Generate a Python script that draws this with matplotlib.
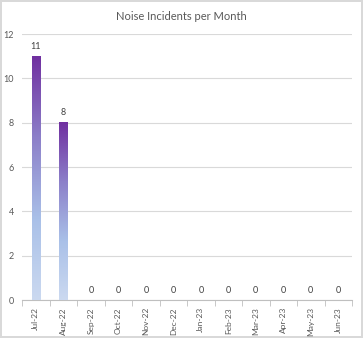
import numpy as np
import matplotlib.pyplot as plt
from matplotlib.colors import LinearSegmentedColormap

months = ["Jul-22", "Aug-22", "Sep-22", "Oct-22", "Nov-22", "Dec-22",
          "Jan-23", "Feb-23", "Mar-23", "Apr-23", "May-23", "Jun-23"]
incidents = [11, 8, 0, 0, 0, 0, 0, 0, 0, 0, 0, 0]
yticks = [0, 2, 4, 6, 8, 10, 12]

plt.rcParams['font.family'] = ['Lato', 'DejaVu Sans']

# light blue at the bottom of each bar, purple at the top
grad = LinearSegmentedColormap.from_list(
    "bargrad", ["#cbd9f0", "#a9c0e8", "#8c7fc9", "#7030a0"])

fig = plt.figure(figsize=(3.63, 3.38), dpi=100)
fig.patch.set_edgecolor("#d9d9d9")
fig.patch.set_linewidth(1.5)
ax = fig.add_axes([0.061, 0.112, 0.909, 0.787])

x = np.arange(len(months))
width = 0.3
ramp = np.linspace(0, 1, 256).reshape(-1, 1)
for xi, val in zip(x, incidents):
    if val > 0:
        ax.imshow(ramp, cmap=grad, origin="lower", aspect="auto",
                  extent=[xi - width / 2, xi + width / 2, 0, val], zorder=3)
    ax.text(xi, val + 0.25, str(val), ha="center", va="bottom",
            fontsize=6.5, color="#404040", zorder=4)

ax.set_xlim(-0.5, len(months) - 0.5)
ax.set_ylim(0, 12)
ax.set_yticks(yticks)
ax.set_yticklabels([str(t) for t in yticks], fontsize=6.5, color="#595959")
ax.yaxis.grid(True, color="#d9d9d9", linewidth=0.8)
ax.set_axisbelow(True)
ax.tick_params(axis="y", length=0, pad=6)

ax.set_xticks(x)
ax.set_xticklabels(months, rotation=90, fontsize=6, color="#595959")
ax.set_xticks(np.arange(-0.5, len(months)), minor=True)
ax.tick_params(axis="x", which="major", length=0, pad=5)
ax.tick_params(axis="x", which="minor", length=4, color="#bfbfbf")

for side in ["top", "right", "left"]:
    ax.spines[side].set_visible(False)
ax.spines["bottom"].set_color("#bfbfbf")

# title is centred on the whole chart, not the plot area
fig.text(0.5, 0.952, "Noise Incidents per Month", ha="center", va="center",
         fontsize=8, color="#595959")

fig.savefig("out.png", dpi=100)
